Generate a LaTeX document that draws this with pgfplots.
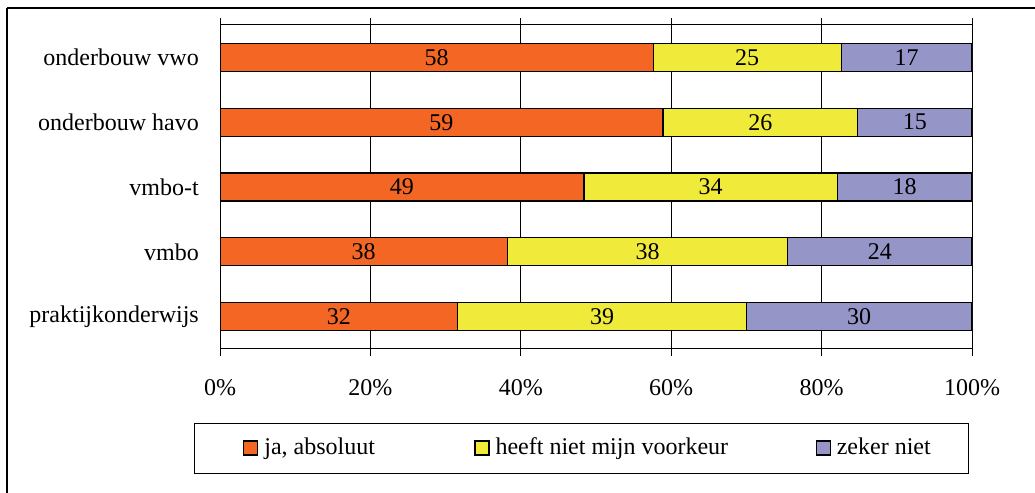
\documentclass[border=0pt]{standalone}
\usepackage{fontspec}
\setmainfont{Liberation Serif}
\usepackage{pgfplots}
\pgfplotsset{compat=1.18}
\usepackage{pgfplotstable}

\definecolor{cja}{RGB}{243,102,35}
\definecolor{cheeft}{RGB}{240,234,58}
\definecolor{czeker}{RGB}{149,149,200}

% y: 0 = praktijkonderwijs ... 4 = onderbouw vwo
% *n = share of the bar length (percent), *l = printed label
\pgfplotstableread{
y jan jal heeftn heeftl zekern zekerl
0 31.6 32 38.4 39 30.0 30
1 38.2 38 37.3 38 24.5 24
2 48.4 49 33.7 34 17.9 18
3 58.9 59 25.9 26 15.2 15
4 57.6 58 25.0 25 17.4 17
}\data

\pgfplotsset{sqlegend/.style={legend image code/.code={\draw[##1,draw=black,line width=1.2bp] (0bp,-7bp) rectangle (14bp,7bp);}}}

\begin{document}
\fontsize{24bp}{28bp}\selectfont
\begin{tikzpicture}[x=1bp,y=1bp]
\useasboundingbox (0,0) rectangle (1035,493);
\draw[line width=1.2bp] (7,485) -- (1100,485);
\draw[line width=1.2bp] (7,485) -- (7,-20);
\begin{axis}[
  at={(220bp,144bp)}, anchor=south west,
  scale only axis, width=752bp, height=324bp,
  xbar stacked, bar width=28bp,
  xmin=0, xmax=100, ymin=-0.5, ymax=4.5,
  xtick={0,20,40,60,80,100},
  xticklabel={\pgfmathprintnumber{\tick}\%},
  ytick={0,1,2,3,4},
  yticklabels={praktijkonderwijs, vmbo, vmbo-t, onderbouw havo, onderbouw vwo},
  xmajorgrids, grid style={black, line width=0.8bp},
  axis line style={black, line width=1bp},
  tick style={black, line width=1bp},
  xtick align=outside, major tick length=7bp,
  ytick style={draw=none},
  /pgf/number format/assume math mode=true,
  tick label style={font=\fontsize{24bp}{28bp}\selectfont},
  yticklabel style={xshift=-13bp},
  xticklabel style={yshift=-15bp},
  point meta=explicit symbolic,
  nodes near coords,
  every node near coord/.append style={anchor=center, font=\fontsize{24bp}{28bp}\selectfont, text=black},
  legend columns=3,
  legend style={at={(0.4807,-0.3056)}, anchor=center, draw=black, line width=1bp,
    inner xsep=49bp, inner ysep=14bp, /tikz/column sep=6bp,
    nodes={inner sep=0pt, text height=17bp, text depth=5bp, font=\fontsize{24bp}{28bp}\selectfont}},
]
\addplot[fill=cja, draw=black, line width=1.2bp, sqlegend] table[x=jan, y=y, meta=jal] {\data};
\addlegendentry{\makebox[204bp][l]{ja, absoluut}}
\addplot[fill=cheeft, draw=black, line width=1.2bp, sqlegend] table[x=heeftn, y=y, meta=heeftl] {\data};
\addlegendentry{\makebox[314bp][l]{heeft niet mijn voorkeur}}
\addplot[fill=czeker, draw=black, line width=1.2bp, sqlegend] table[x=zekern, y=y, meta=zekerl] {\data};
\addlegendentry{\makebox[83bp][l]{zeker niet}}
\end{axis}
\end{tikzpicture}
\end{document}
